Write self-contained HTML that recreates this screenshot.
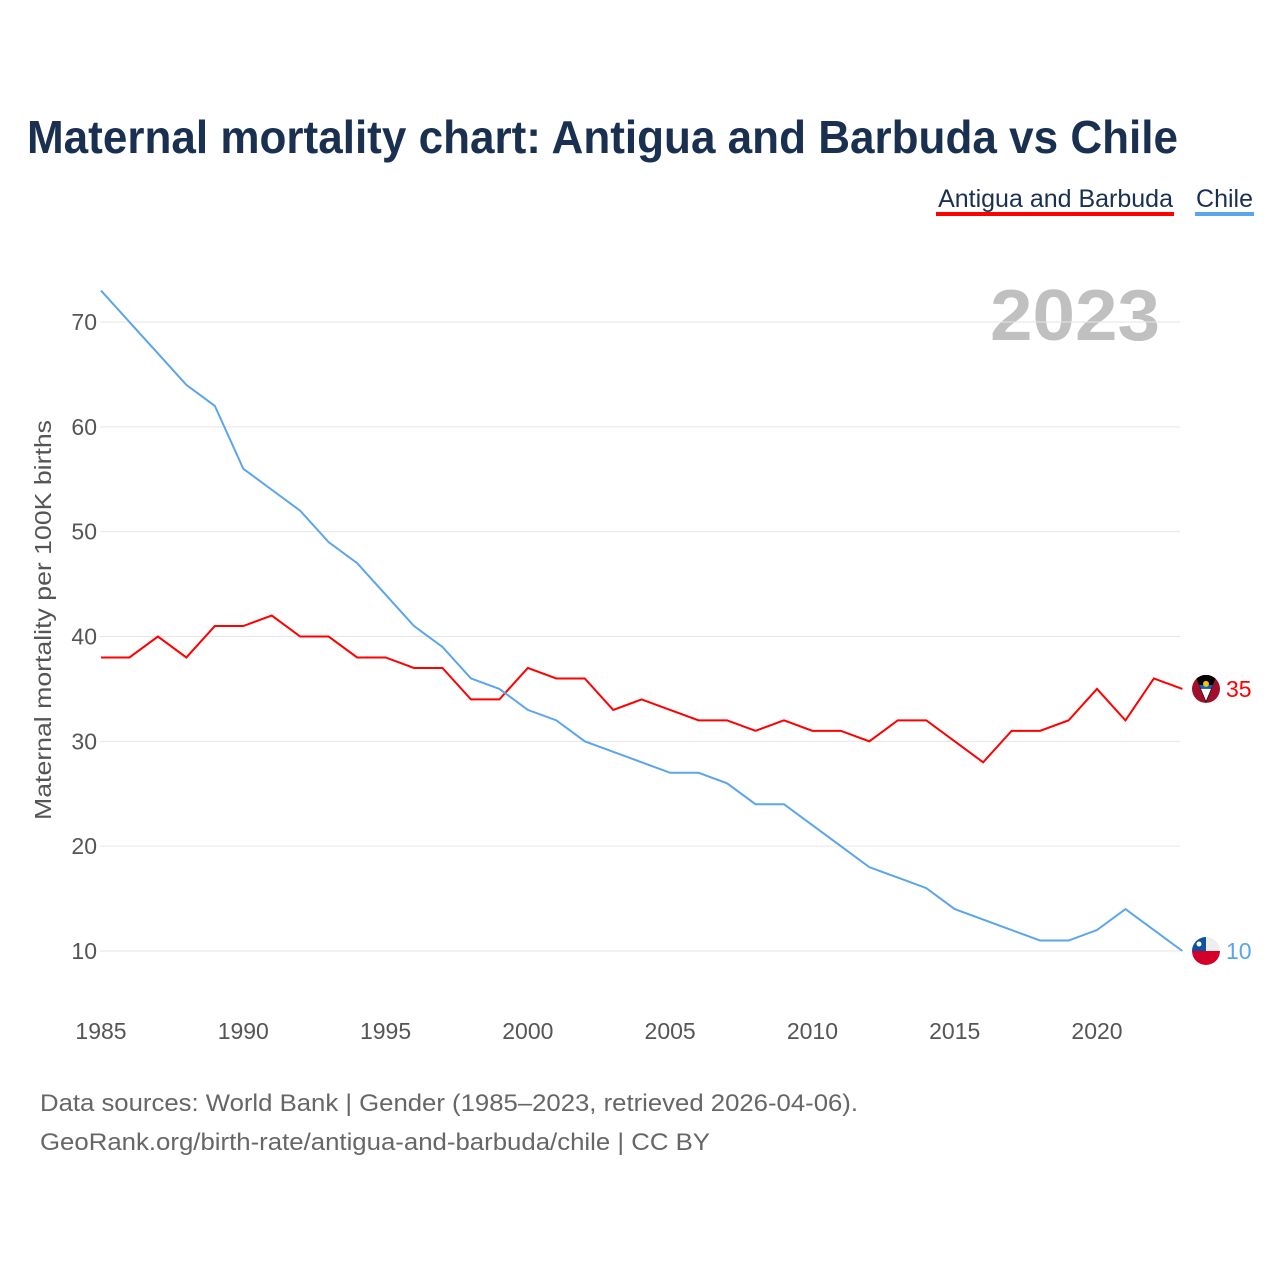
<!DOCTYPE html>
<html><head><meta charset="utf-8">
<style>
body{margin:0;background:#fff;font-family:"Liberation Sans",sans-serif;}
#wrap{position:relative;width:1280px;height:1280px;overflow:hidden;}
</style></head>
<body>
<div id="wrap">
<svg id="chart" width="1280" height="1280">
<text x="27" y="153" font-size="46" font-weight="bold" fill="#1a3050" textLength="1151" lengthAdjust="spacingAndGlyphs">Maternal mortality chart: Antigua and Barbuda vs Chile</text>
<g>
<text x="1173" y="207" text-anchor="end" font-size="25" fill="#1a3050">Antigua and Barbuda</text>
<rect x="936" y="212" width="238" height="4" fill="#ff0000"/></g>
<g>
<text x="1253" y="207" text-anchor="end" font-size="25" fill="#1a3050">Chile</text>
<rect x="1195" y="212" width="59" height="4" fill="#5aa5ec"/></g>
<text x="990" y="340" font-size="72" font-weight="bold" fill="#c0c0c0" textLength="170" lengthAdjust="spacingAndGlyphs">2023</text>
<text transform="translate(51,620) rotate(-90)" text-anchor="middle" font-size="23" fill="#555" textLength="400" lengthAdjust="spacingAndGlyphs">Maternal mortality per 100K births</text>
<g id="grid"></g><g id="xt"></g><g id="lines"></g>
<text x="40" y="1111" font-size="24" fill="#666" textLength="818" lengthAdjust="spacingAndGlyphs">Data sources: World Bank | Gender (1985–2023, retrieved 2026-04-06).</text>
<text x="40" y="1150" font-size="24" fill="#666" textLength="670" lengthAdjust="spacingAndGlyphs">GeoRank.org/birth-rate/antigua-and-barbuda/chile | CC BY</text>
</svg></div>
<script>
const years=[1985,1986,1987,1988,1989,1990,1991,1992,1993,1994,1995,1996,1997,1998,1999,2000,2001,2002,2003,2004,2005,2006,2007,2008,2009,2010,2011,2012,2013,2014,2015,2016,2017,2018,2019,2020,2021,2022,2023];
const antigua=[38,38,40,38,41,41,42,40,40,38,38,37,37,34,34,37,36,36,33,34,33,32,32,31,32,31,31,30,32,32,30,28,31,31,32,35,32,36,35];
const chile=[73,70,67,64,62,56,54,52,49,47,44,41,39,36,35,33,32,30,29,28,27,27,26,24,24,22,20,18,17,16,14,13,12,11,11,12,14,12,10];
const yTicks=[10,20,30,40,50,60,70];
const xTicks=[1985,1990,1995,2000,2005,2010,2015,2020];
const NS="http://www.w3.org/2000/svg";
const X=y=>101+(y-1985)*28.457;
const Y=v=>951-(v-10)*10.483;
function mk(t,a,p){const e=document.createElementNS(NS,t);for(const k in a)e.setAttribute(k,a[k]);p.appendChild(e);return e;}
const grid=document.getElementById('grid');
yTicks.forEach(v=>{
 const l=mk('line',{x1:100,x2:1180,y1:Y(v),y2:Y(v),stroke:'#e6e6e6','stroke-width':1},grid);
 
 
 const t=mk('text',{x:97,y:Y(v)+8,'text-anchor':'end','font-size':23,fill:'#555'},grid);
 t.textContent=v;
 
 
});
const xt=document.getElementById('xt');
xTicks.forEach(y=>{
 const t=mk('text',{x:X(y),y:1039,'text-anchor':'middle','font-size':23,fill:'#555'},xt);
 t.textContent=y;
 
 
});
const lines=document.getElementById('lines');
function series(vals,color,name){
 const p=mk('polyline',{points:vals.map((v,i)=>X(years[i])+','+Y(v)).join(' '),fill:'none',stroke:color,'stroke-width':2},lines);
 
 
 const last=vals[vals.length-1];
 const t=mk('text',{x:1226,y:Y(last)+8,'font-size':23,fill:color},lines);
 t.textContent=last;
 
 
 return Y(last);
}
const ya=series(antigua,'#ff0000','antigua');
const yc=series(chile,'#5aa5ec','chile');
const fa=mk('g',{},lines);


const cx=1206;
mk('clipPath',{id:'ca'},fa);
mk('circle',{cx:cx,cy:ya,r:14},document.getElementById('ca'));
const ga=mk('g',{'clip-path':'url(#ca)'},fa);
mk('rect',{x:cx-14,y:ya-14,width:28,height:28,fill:'#a0102a'},ga);
mk('polygon',{points:`${cx-11},${ya-14} ${cx+11},${ya-14} ${cx},${ya+14}`,fill:'#000'},ga);
mk('polygon',{points:`${cx-7},${ya-4} ${cx+7},${ya-4} ${cx+5},${ya} ${cx-5},${ya}`,fill:'#1060c0'},ga);
mk('polygon',{points:`${cx-5},${ya} ${cx+5},${ya} ${cx},${ya+12}`,fill:'#fff'},ga);
mk('circle',{cx:cx,cy:ya-5,r:3,fill:'#f5c400'},ga);
const fc=mk('g',{},lines);


mk('clipPath',{id:'cc'},fc);
mk('circle',{cx:cx,cy:yc,r:14},document.getElementById('cc'));
const gc=mk('g',{'clip-path':'url(#cc)'},fc);
mk('rect',{x:cx-14,y:yc-14,width:28,height:14,fill:'#eee'},gc);
mk('rect',{x:cx-14,y:yc,width:28,height:14,fill:'#d4002a'},gc);
mk('rect',{x:cx-14,y:yc-14,width:14,height:14,fill:'#1050a0'},gc);
mk('circle',{cx:cx-7,cy:yc-7,r:2.5,fill:'#fff'},gc);
</script>
</body></html>
